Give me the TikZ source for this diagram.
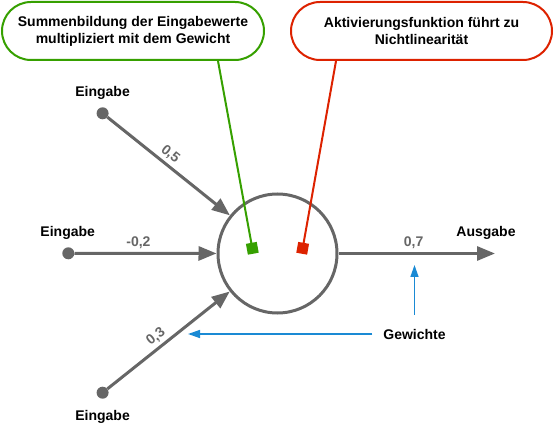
\documentclass[tikz,border=0pt]{standalone}
\usepackage{fontspec}
\setmainfont{Liberation Sans}
\usetikzlibrary{arrows.meta, calc}

\definecolor{wire}{HTML}{666666}
\definecolor{sumgreen}{HTML}{36A000}
\definecolor{actred}{HTML}{DD2200}
\definecolor{weightblue}{HTML}{1A8AD4}

\begin{document}
\begin{tikzpicture}[x=1pt, y=-1pt,
        every node/.style={font=\bfseries\fontsize{14}{17}\selectfont},
        txt/.style={inner sep=0pt, outer sep=0pt},
        weight/.style={text=wire, inner sep=3pt, sloped, above},
        dot/.style={shape=circle, fill=wire, minimum size=12pt, inner sep=0pt},
        signal/.style={draw, color=wire, line width=3pt, -{Triangle[length=18pt,width=14pt]}},
        callout/.style={shape=rectangle, rounded corners=29pt, line width=2pt, fill=white,
            minimum height=58pt, align=center, inner sep=0pt},
        pointer/.style={draw=weightblue, line width=1.5pt, -{Triangle[length=12pt,width=8pt]}}]
        \useasboundingbox (0,0) rectangle (555,425);

        % Neuron und Eingaenge
        \node[shape=circle, draw=wire, line width=3pt, minimum size=119pt, inner sep=0pt] (neuron) at (277.5,253.5) {};
        \node[dot] (in1) at (102.6,113.3) {};
        \node[dot] (in2) at (68.3,253.3) {};
        \node[dot] (in3) at (102.6,392.7) {};
        \coordinate (out) at (495,253.5);

        \node[txt] (lab1) at (102.6,93) {Eingabe};
        \node[txt] (lab2) at (67.7,233.3) {Eingabe};
        \node[txt] (lab3) at (102.6,417) {Eingabe};
        \node[txt] (lab4) at (486,233.3) {Ausgabe};

        \path[signal] (in1) edge node[weight, pos=0.46] {0,5} (neuron);
        \path[signal] (in2) edge node[weight, pos=0.45] {-0,2} (neuron);
        \path[signal] (in3) edge node[weight, pos=0.45] {0,3} (neuron);
        \path[signal] (neuron) edge node[weight, pos=0.48] {0,7} (out);

        % Erklaerungen
        \node[callout, draw=sumgreen, minimum width=262pt] (sum) at (133,31) {Summenbildung der Eingabewerte\\multipliziert mit dem Gewicht};
        \node[callout, draw=actred, minimum width=261pt] (act) at (421.5,31) {Aktivierungsfunktion führt zu\\Nichtlinearität};
        \coordinate (sumtip) at (253.3,253.7);
        \coordinate (acttip) at (301.7,253.7);
        \draw[sumgreen, line width=2pt, -{Square[length=11pt,width=11pt]}] ([xshift=85pt]sum.south) -- (sumtip);
        \draw[actred, line width=2pt, -{Square[length=11pt,width=11pt]}] ([xshift=-85.5pt]act.south) -- (acttip);

        % Gewichte
        \node[txt] (gew) at (414.5,334) {Gewichte};
        \coordinate (w1) at (188,334);
        \coordinate (w2) at (414.5,265);
        \draw[pointer, shorten <=11pt] (gew) -- (w1);
        \draw[pointer, shorten <=14pt] (gew) -- (w2);

    \end{tikzpicture}
\end{document}
